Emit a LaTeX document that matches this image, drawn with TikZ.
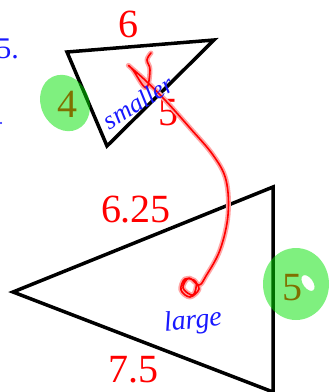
\documentclass[tikz,border=0pt]{standalone}
\usepackage{fontspec}
\setmainfont{Liberation Serif}
\definecolor{penred}{RGB}{255,0,0}
\definecolor{penblue}{RGB}{25,25,255}
\definecolor{hlgreen}{RGB}{0,225,0}
\tikzset{
  side/.style={font=\fontsize{40}{40}\selectfont,text=penred,inner sep=0pt},
  hilite/.style={fill=hlgreen,fill opacity=0.5,draw=none},
  note/.style={font=\fontsize{26}{26}\selectfont\itshape,text=penblue,inner sep=0pt},
  edge/.style={line width=3.5pt,draw=black}
}
\begin{document}
\begin{tikzpicture}[x=1pt,y=-1pt]
  \useasboundingbox (0,0) rectangle (331,392);
  % triangles
  \draw[edge] (67,52) coordinate (sa) -- (214,40) coordinate (sb) -- (107,146) coordinate (sc) -- cycle;
  \draw[edge] (13,292) coordinate (la) -- (273,187) coordinate (lb) -- (273,392) coordinate (lc) -- cycle;

  % cut text at the left edge
  \node[note,font=\fontsize{30}{30}\selectfont,anchor=base east] (cut1) at (19,58) {5.};
  \fill[penblue] (1,123) circle (1.2pt);

  % side lengths
  \node[side] (s6) at (128,24) {6};
  \node[side] (s5) at (168,113) {5};
  \node[side] (s4) at (67,104) {4};
  \node[side] (l625) at (136,210) {6.25};
  \node[side] (l75) at (134,370) {7.5};
  \node[side] (l5) at (292,288) {5};

  % highlights
  \fill[hilite,rotate around={25:(65,103)}] (65,103) ellipse (24pt and 29pt);
  \fill[hilite,even odd rule] (296,284) ellipse (33pt and 36pt)
    [rotate around={35:(308,283)}] (308,283) ellipse (5pt and 9pt);

  % arrow from large to smaller
  \draw[penred!35,line width=5pt,line cap=round,line join=round] plot[smooth,tension=0.6] coordinates {
    (194,280) (199,289) (190,297) (181,290) (185,279) (196,282) (193,295) (183,288) (189,278) (199,285)
    (206,276) (220,250) (228,215) (226,180) (213,155) (190,128) (165,100) (145,80) (129,66) (133,70)
    (146,88) (150,70) (147,60) (151,53)};
  \draw[penred,line width=1.6pt,line cap=round,line join=round] plot[smooth,tension=0.6] coordinates {
    (194,280) (199,289) (190,297) (181,290) (185,279) (196,282) (193,295) (183,288) (189,278) (199,285)
    (206,276) (220,250) (228,215) (226,180) (213,155) (190,128) (165,100) (145,80) (129,66) (133,70)
    (146,88) (150,70) (147,60) (151,53)};

  % notes
  \node[note,rotate=32] (small) at (138,102) {smaller};
  \node[note,font=\fontsize{28}{28}\selectfont\itshape,rotate=6] (large) at (193,322) {large};
\end{tikzpicture}
\end{document}
